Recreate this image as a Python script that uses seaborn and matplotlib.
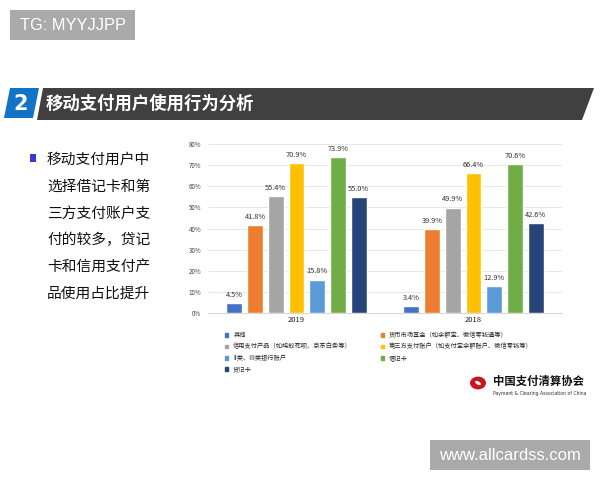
import pandas as pd
import numpy as np
import matplotlib
matplotlib.use('Agg')
import matplotlib.pyplot as plt
import matplotlib.patches as mpatches
from matplotlib.ticker import FuncFormatter
import seaborn as sns

# 数据
years = ['2019', '2018']
categories = ['其他', '货币市场基金（如余额宝、微信零钱通等）', '信用支付产品（如蚂蚁花呗、京东白条等）',
              '第三方支付账户（如支付宝余额账户、微信零钱等）', 'II类、III类银行账户', '借记卡', '贷记卡']
values_2019 = [4.5, 41.8, 55.4, 70.9, 15.8, 73.9, 55.0]
values_2018 = [3.4, 39.9, 49.9, 66.4, 12.9, 70.6, 42.6]
colors = ['#4472C4', '#ED7D31', '#A5A5A5', '#FFC000', '#5B9BD5', '#70AD47', '#264478']

title = '移动支付用户使用行为分析'
side_lines = ['移动支付用户中', '选择借记卡和第', '三方支付账户支', '付的较多，贷记', '卡和信用支付产', '品使用占比提升']

df = pd.DataFrame({
    'year': [years[0]] * 7 + [years[1]] * 7,
    'cat': categories * 2,
    'value': values_2019 + values_2018,
})

sns.set_style('white')
plt.rcParams['font.family'] = ['Noto Sans CJK SC', 'DejaVu Sans']

W, H = 600, 480
fig = plt.figure(figsize=(6, 4.8), dpi=100)


def px(x, y):
    return (x / W, 1 - y / H)


def poly(pts, color):
    p = mpatches.Polygon([px(*q) for q in pts], closed=True, transform=fig.transFigure,
                         facecolor=color, edgecolor='none')
    fig.patches.append(p)


# 顶部水印
fig.patches.append(mpatches.Rectangle(px(10, 40), 125 / W, 30 / H, transform=fig.transFigure,
                                      facecolor='#aaaaaa', edgecolor='none'))
fig.text(*px(20, 25), 'TG: MYYJJPP', color='white', fontsize=11.8, va='center', ha='left',
         family=['Liberation Sans'])

# 标题栏
poly([(10, 88), (39, 88), (33, 118), (4, 118)], '#1273C7')
poly([(43, 88), (594, 88), (582, 120), (37, 120)], '#404040')
fig.text(*px(21, 104), '2', color='white', fontsize=15, fontweight='bold', ha='center', va='center',
         family=['DejaVu Sans'])
fig.text(*px(46, 104), title, color='white', fontsize=12.5, fontweight='bold', ha='left', va='center')

# 左侧文字
fig.patches.append(mpatches.Rectangle(px(30, 162), 6 / W, 8 / H, transform=fig.transFigure,
                                      facecolor='#3a3ad0', edgecolor='none'))
for i, line in enumerate(side_lines):
    fig.text(*px(47, 160 + i * 26.7), line, fontsize=10.6, ha='left', va='center', color='#111111')

# 图表
ax = fig.add_axes([208 / W, 1 - 313 / H, 354 / W, 169 / H])
sns.barplot(data=df, x='year', y='value', hue='cat', hue_order=categories, order=years,
            palette=colors, width=0.82, gap=0.23, ax=ax, legend=False, saturation=1)
ax.set_ylim(0, 80)
ax.set_xlim(-0.5, 1.5)
ax.set_yticks(np.arange(0, 81, 10))
ax.yaxis.set_major_formatter(FuncFormatter(lambda v, p: f'{v:.0f}%'))
ax.grid(axis='y', color='#e3e3e3', linewidth=0.6)
ax.set_axisbelow(True)
for s in ['top', 'right', 'left']:
    ax.spines[s].set_visible(False)
ax.spines['bottom'].set_color('#d0d0d0')
ax.spines['bottom'].set_linewidth(0.6)
ax.tick_params(axis='y', labelsize=4.5, length=0, pad=5, colors='#444444')
ax.tick_params(axis='x', labelsize=5.5, length=0, pad=2, colors='#222222')
ax.set_xlabel('')
ax.set_ylabel('')
for c in ax.containers:
    ax.bar_label(c, fmt='%.1f%%', fontsize=5.3, padding=3, color='#333333')

# 图例（按行排列）
handles = [mpatches.Patch(color=c) for c in colors]
order = [0, 2, 4, 6, 1, 3, 5]
fig.legend([handles[i] for i in order], [categories[i] for i in order], ncol=2,
           loc='upper left', bbox_to_anchor=px(222, 328), frameon=False, fontsize=4.5,
           handlelength=0.5, handleheight=0.5, handletextpad=0.8, labelspacing=0.55,
           columnspacing=4.6, borderpad=0)

# 协会标志
fig.patches.append(mpatches.Circle(px(478, 383), 8 / W, transform=fig.transFigure,
                                   facecolor='#c8161e', edgecolor='none'))
fig.patches.append(mpatches.Ellipse(px(478, 383), 7 / W, 3 / H, angle=-40, transform=fig.transFigure,
                                    facecolor='white', edgecolor='none'))
fig.text(*px(493, 381), '中国支付清算协会', fontsize=8.2, fontweight='bold', ha='left', va='center',
         color='#111111')
fig.text(*px(493, 393), 'Payment & Clearing Association of China', fontsize=3.3, ha='left', va='center',
         color='#333333', family=['DejaVu Sans'])

# 底部水印
fig.patches.append(mpatches.Rectangle(px(430, 470), 160 / W, 30 / H, transform=fig.transFigure,
                                      facecolor='#aaaaaa', edgecolor='none'))
fig.text(*px(510, 455), 'www.allcardss.com', color='white', fontsize=12, va='center', ha='center',
         family=['Liberation Sans'])

fig.savefig('out.png', dpi=100)
